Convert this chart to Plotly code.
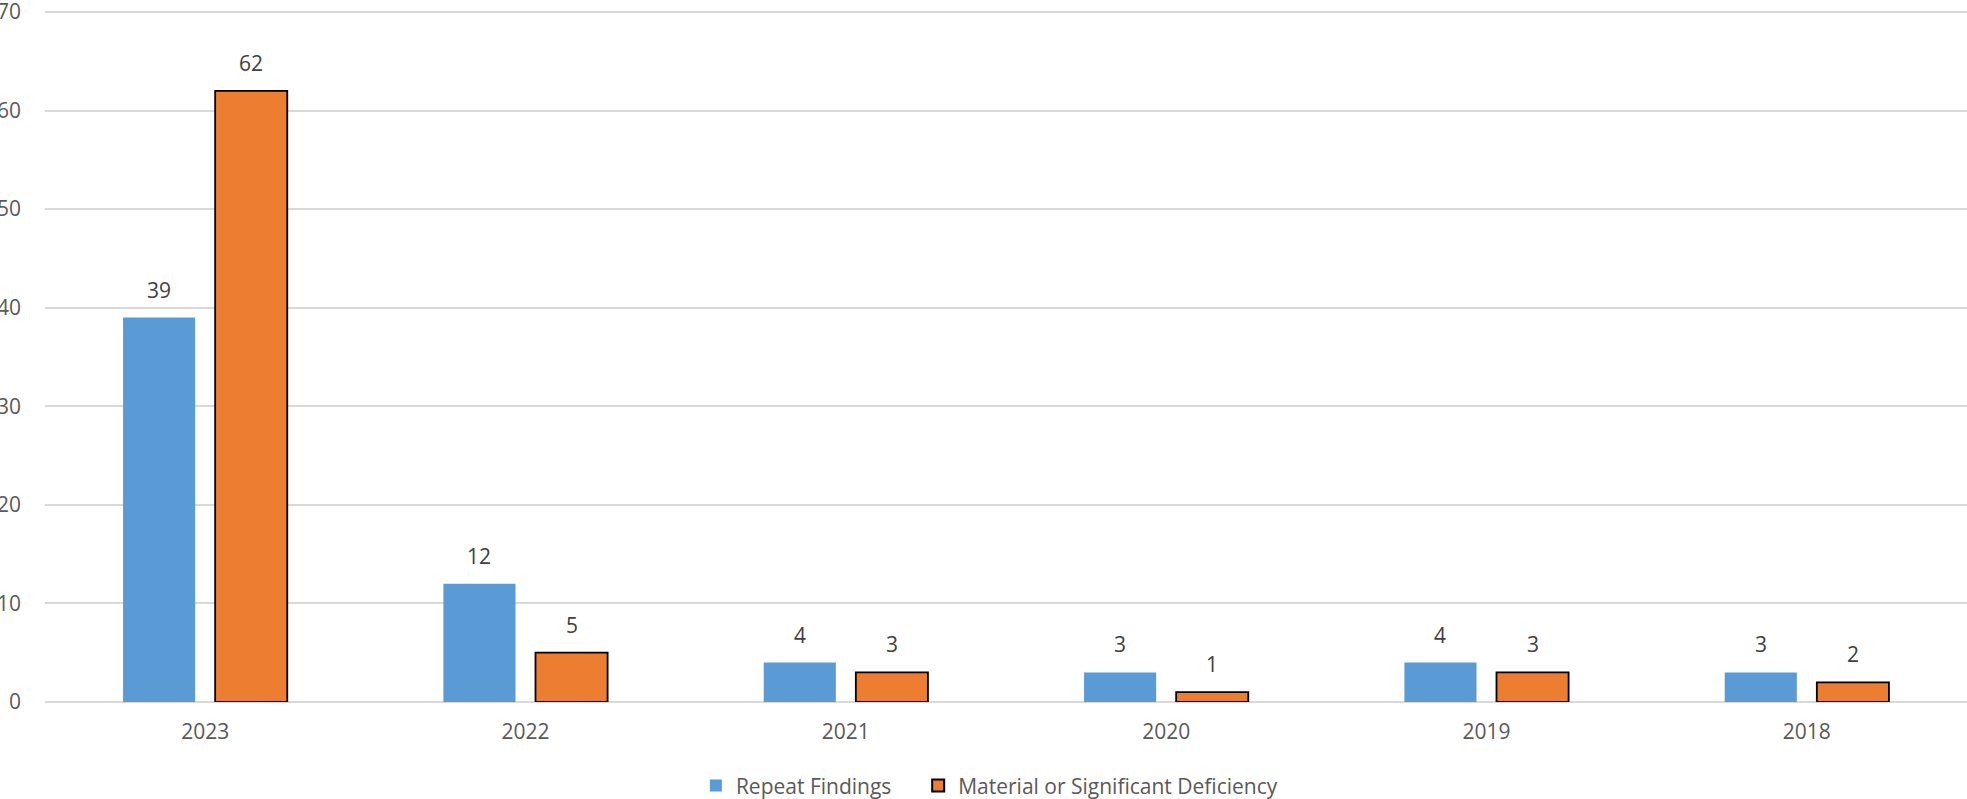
import plotly.graph_objects as go

years = ["2023", "2022", "2021", "2020", "2019", "2018"]
repeat_findings = [39, 12, 4, 3, 4, 3]
material_deficiency = [62, 5, 3, 1, 3, 2]
y_ticks = [0, 10, 20, 30, 40, 50, 60, 70]

BLUE = "#5B9BD5"
ORANGE = "#ED7D31"
TEXT = "#595959"
FONT = "Open Sans"
FS = 21

BARGAP = 0.425
GROUPGAP = 0.217

fig = go.Figure()
fig.add_trace(go.Bar(
    name="Repeat Findings\u00a0\u00a0\u00a0\u00a0", x=years, y=repeat_findings,
    marker=dict(color=BLUE, line=dict(color=BLUE, width=0)),
))
fig.add_trace(go.Bar(
    name="Material or Significant Deficiency", x=years, y=material_deficiency,
    marker=dict(color=ORANGE, line=dict(color="#000000", width=1.8)),
))

# data labels, placed at bar centres in category units
slot = (1 - BARGAP) / 2
for tr_idx, vals in enumerate([repeat_findings, material_deficiency]):
    off = -slot / 2 if tr_idx == 0 else slot / 2
    for i, v in enumerate(vals):
        fig.add_annotation(
            x=i + off, y=v, text=str(v), showarrow=False,
            xref="x", yref="y", yanchor="bottom", yshift=12,
            font=dict(family=FONT, size=FS, color="#404040"),
        )

fig.update_layout(
    width=1967, height=799,
    margin=dict(l=45, r=0, t=9, b=97, autoexpand=False),
    paper_bgcolor="white", plot_bgcolor="white",
    barmode="group", bargap=BARGAP, bargroupgap=GROUPGAP,
    font=dict(family=FONT, size=FS, color=TEXT),
    showlegend=True,
    legend=dict(
        orientation="h", xref="container", x=0.503, xanchor="center",
        y=-0.121, yanchor="middle",
        font=dict(family=FONT, size=FS, color=TEXT),
        itemsizing="constant", traceorder="normal",
    ),
    xaxis=dict(
        type="category", range=[-0.5, len(years) - 0.5],
        showgrid=False, showline=False, zeroline=False,
        ticks="", ticklabelstandoff=15,
        tickfont=dict(family=FONT, size=FS, color=TEXT),
    ),
    yaxis=dict(
        range=[0, 70.3], tickvals=y_ticks, showgrid=True,
        gridcolor="#D9D9D9", gridwidth=1.5, zeroline=True,
        zerolinecolor="#D9D9D9", zerolinewidth=1.5, showline=False,
        ticks="", ticklabelstandoff=23, ticklabeloverflow="allow",
        tickfont=dict(family=FONT, size=FS, color=TEXT),
    ),
)

fig.write_html(
    "out.html",
    config={"displayModeBar": False},
    post_script="document.body.style.margin='0';document.body.style.overflow='hidden';",
)
